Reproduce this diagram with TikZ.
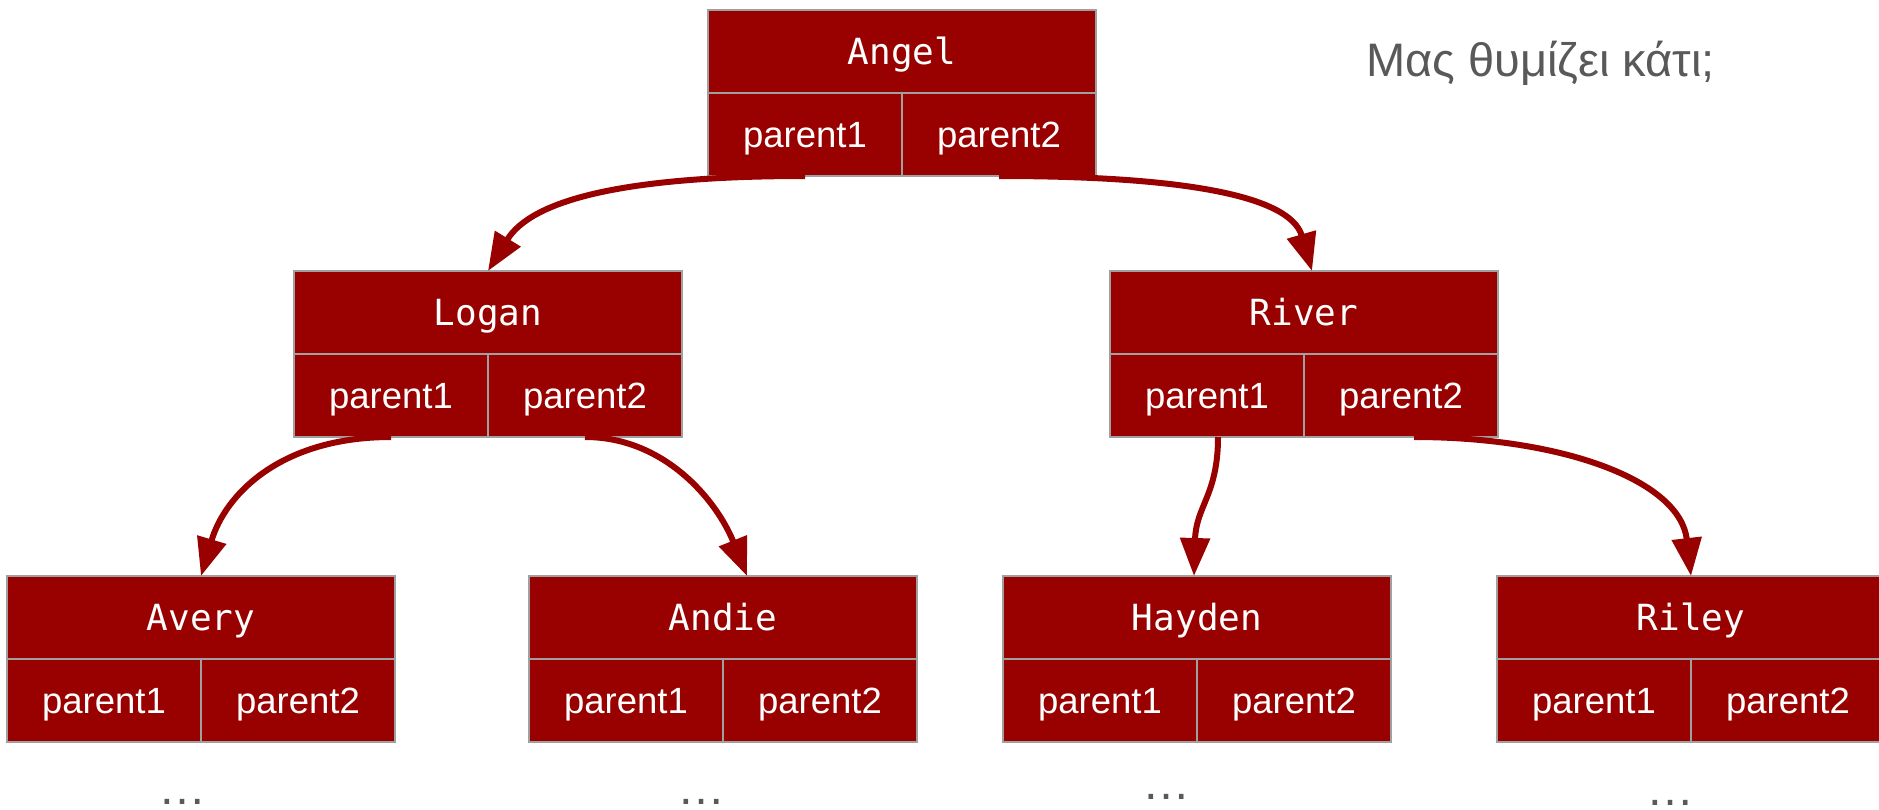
\documentclass[tikz,border=0pt]{standalone}
\usepackage{fontspec}
\setmainfont{Liberation Sans}
\newfontfamily\monofont{DejaVu Sans Mono}
\usetikzlibrary{arrows.meta}
\definecolor{boxred}{RGB}{153,0,0}
\definecolor{boxline}{RGB}{160,160,160}
\definecolor{txtgray}{RGB}{89,89,89}
\tikzset{
  cell/.style={draw=boxline, line width=1.5pt, fill=boxred, text=white, inner sep=0pt, outer sep=0pt,
    minimum height=83pt, text height=25pt, text depth=0pt, anchor=north west},
  namecell/.style={cell, minimum width=388pt, font=\monofont\fontsize{36}{40}\selectfont},
  parcell/.style={cell, minimum width=194pt, font=\fontsize{36.5}{40}\selectfont},
  link/.style={draw=boxred, line width=6pt, -{Triangle[length=38pt,width=29pt]}},
  dotsnode/.style={text=txtgray, font=\fontsize{48}{50}\selectfont, anchor=base, inner sep=0pt,
    text height=5pt, text depth=0pt}
}
\newcommand\personbox[3]{%
  \node[namecell] (#1) at (#2,#3) {#1};
  \node[parcell] (#1-p1) at (#2,#3+83) {parent1};
  \node[parcell] (#1-p2) at (#2+194,#3+83) {parent2};
}
\begin{document}
\begin{tikzpicture}[x=1pt,y=-1pt]
\useasboundingbox (0,0) rectangle (1879,809);
\personbox{Angel}{708}{10}
\personbox{Logan}{294}{271}
\personbox{River}{1110}{271}
\personbox{Avery}{7}{576}
\personbox{Andie}{529}{576}
\personbox{Hayden}{1003}{576}
\personbox{Riley}{1497}{576}

\draw[link] (Angel-p1.south) .. controls +(-185,0) and +(43,-70) .. (Logan.north);
\draw[link] (Angel-p2.south) .. controls +(181,0) and +(-22,-76) .. ([xshift=8pt]River.north);
\draw[link] (Logan-p1.south) .. controls +(-111,0) and +(24,-81) .. (Avery.north);
\draw[link] (Logan-p2.south) .. controls +(80,0) and +(-30,-75) .. ([xshift=24pt]Andie.north);
\draw[link] ([xshift=11pt]River-p1.south) .. controls +(0,58) and +(2,-70) .. ([xshift=-3pt]Hayden.north);
\draw[link] ([xshift=13pt]River-p2.south) .. controls +(147,0) and +(-11,-96) .. (Riley.north);

\node[anchor=base west, text=txtgray, font=\fontsize{47}{50}\selectfont, inner sep=0pt] (note) at (1366,76) {Μας θυμίζει κάτι;};

\node[dotsnode] (dotsA) at (182,804) {…};
\node[dotsnode] (dotsB) at (701,804) {…};
\node[dotsnode] (dotsC) at (1166,799) {…};
\node[dotsnode] (dotsD) at (1670,805) {…};
\end{tikzpicture}
\end{document}
